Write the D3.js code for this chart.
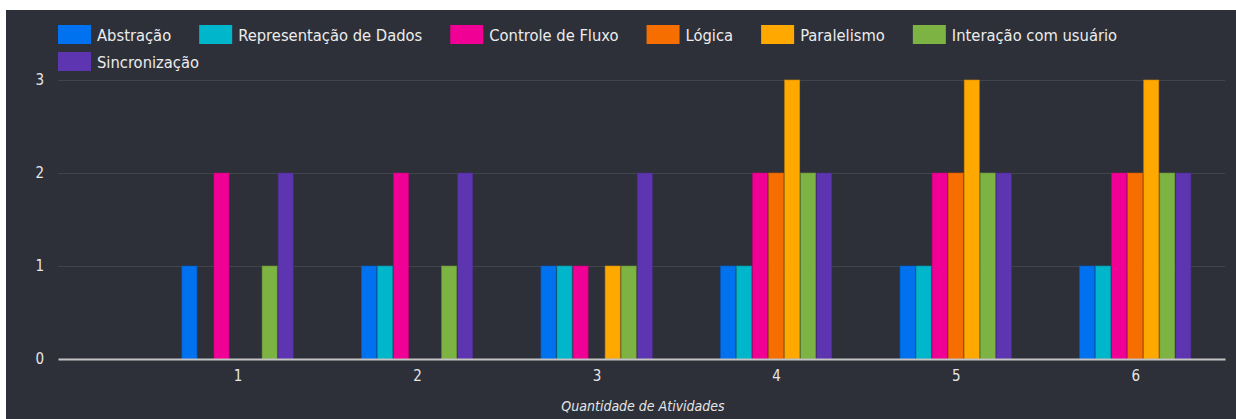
<!DOCTYPE html>
<html>
<head>
<meta charset="utf-8">
<script src="https://cdn.jsdelivr.net/npm/d3@7"></script>
<style>
  html, body { margin: 0; padding: 0; background: #fff; }
  text { font-family: "DejaVu Sans Condensed", "DejaVu Sans", sans-serif; font-stretch: condensed; }
</style>
</head>
<body>
<div id="board"></div>
<script>
// categories (x axis) and series
const groups = [1, 2, 3, 4, 5, 6];
const seriesNames = ["Abstração", "Representação de Dados", "Controle de Fluxo", "Lógica",
                     "Paralelismo", "Interação com usuário", "Sincronização"];
const seriesColors = ["#0072f0", "#00b6cb", "#f10096", "#f66d00", "#ffa800", "#7cb342", "#5e35b1"];

// values per series, one per group
const abstracao      = [1, 1, 1, 1, 1, 1];
const representacao  = [0, 1, 1, 1, 1, 1];
const controle       = [2, 2, 1, 2, 2, 2];
const logica         = [0, 0, 0, 2, 2, 2];
const paralelismo    = [0, 0, 1, 3, 3, 3];
const interacao      = [1, 1, 1, 2, 2, 2];
const sincronizacao  = [2, 2, 2, 2, 2, 2];
const seriesValues = [abstracao, representacao, controle, logica, paralelismo, interacao, sincronizacao];

const yTicks = [0, 1, 2, 3];
const xTitle = "Quantidade de Atividades";

// dimensions
const width = 1236;
const height = 419;
const marginTop = 80;
const marginRight = 11;
const marginBottom = 60;
const marginLeft = 58;

const svg = d3.create("svg")
    .attr("width", width)
    .attr("height", height);

// dark panel (thin white border top/left like the screenshot)
svg.append("rect")
    .attr("x", 6).attr("y", 10)
    .attr("width", width - 6).attr("height", height - 10)
    .attr("fill", "#2d3039");

// x scale: continuous axis 0 .. 6.5, groups centered on integers
const x = d3.scaleLinear()
    .domain([0, 6.5])
    .range([marginLeft, width - marginRight]);

const step = x(1) - x(0);
const groupWidth = step * 0.62;

const x1 = d3.scaleBand()
    .domain(d3.range(seriesNames.length))
    .range([-groupWidth / 2, groupWidth / 2])
    .paddingInner(0.06);

const y = d3.scaleLinear()
    .domain([0, 3])
    .range([height - marginBottom, marginTop]);

// grid lines
svg.append("g")
    .selectAll("line")
    .data(yTicks.filter(d => d > 0))
    .join("line")
    .attr("x1", marginLeft)
    .attr("x2", width - marginRight)
    .attr("y1", d => y(d) + 0.5)
    .attr("y2", d => y(d) + 0.5)
    .attr("stroke", "#42444c")
    .attr("stroke-width", 1);

// y axis labels
svg.append("g")
    .attr("transform", `translate(${marginLeft},0)`)
    .call(d3.axisLeft(y).tickValues(yTicks).tickFormat(d3.format("d")).tickSize(0).tickPadding(14))
    .call(g => g.select(".domain").remove())
    .call(g => g.selectAll("text")
        .attr("fill", "#e6e6e6")
        .style("font-size", "15px")
        .style("font-family", null));

// bars
const bars = [];
groups.forEach((gv, gi) => {
    seriesValues.forEach((vals, si) => {
        bars.push({ group: gv, series: si, value: vals[gi] });
    });
});

svg.append("g")
    .selectAll("rect")
    .data(bars.filter(d => d.value > 0))
    .join("rect")
    .attr("x", d => x(d.group) + x1(d.series))
    .attr("y", d => y(d.value))
    .attr("width", x1.bandwidth())
    .attr("height", d => y(0) - y(d.value))
    .attr("fill", d => seriesColors[d.series])
    .attr("stroke", d => d3.color(seriesColors[d.series]).darker(0.6))
    .attr("stroke-width", 0.6);

// x axis
svg.append("g")
    .attr("transform", `translate(0,${y(0)})`)
    .call(d3.axisBottom(x).tickValues(groups).tickFormat(d3.format("d")).tickSize(0).tickPadding(11))
    .call(g => g.select(".domain")
        .attr("stroke", "#c4c4c4")
        .attr("stroke-width", 2))
    .call(g => g.selectAll("text")
        .attr("fill", "#e6e6e6")
        .style("font-size", "15px"));

// x axis title
svg.append("text")
    .attr("x", 643)
    .attr("y", 411)
    .attr("text-anchor", "middle")
    .attr("fill", "#e6e6e6")
    .style("font-size", "14px")
    .style("font-style", "italic")
    .text(xTitle);

// legend
const legend = svg.append("g");
seriesNames.forEach((name, i) => {
    const item = legend.append("g");
    item.append("rect")
        .attr("width", 33).attr("height", 19)
        .attr("fill", seriesColors[i]);
    item.append("text")
        .attr("x", 39).attr("y", 10)
        .attr("dy", "0.35em")
        .attr("fill", "#ececec")
        .style("font-size", "16.4px")
        .text(name);
});

document.getElementById("board").append(svg.node());

// place legend items after measuring, wrap to a new line when full
let lx = 58, ly = 25;
legend.selectAll("g").each(function () {
    const g = d3.select(this);
    const w = 39 + g.select("text").node().getComputedTextLength();
    if (lx + w > width - marginRight) { lx = 58; ly += 27; }
    g.attr("transform", `translate(${lx},${ly})`);
    lx += w + 28;
});
</script>
</body>
</html>
